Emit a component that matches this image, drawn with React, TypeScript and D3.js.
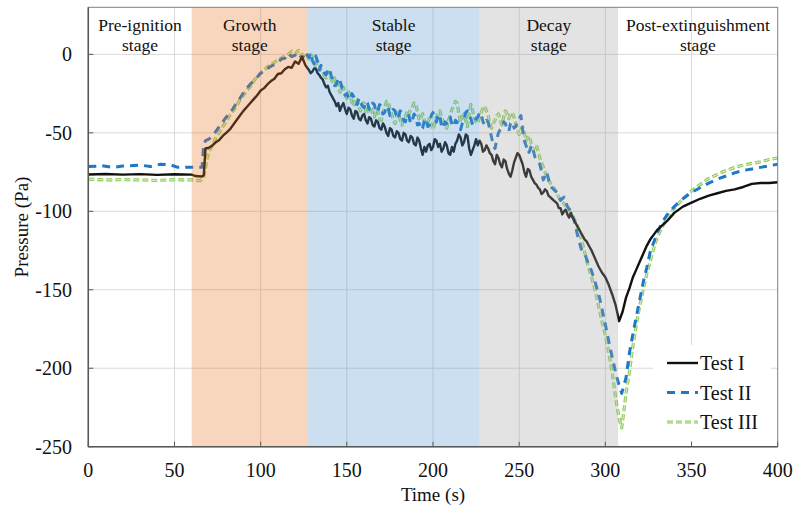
import React from "react";
import * as d3 from "d3";

// Stage boundaries (s) and names
const stageEdges = [0, 60, 127.3, 227, 307.4, 400];
const stageNames = ["Pre-ignition", "Growth", "Stable", "Decay", "Post-extinguishment"];
const stageFill = ["none", "rgb(232,115,38)", "rgb(85,148,205)", "rgb(162,162,162)", "none"];

const xTicks = [0, 50, 100, 150, 200, 250, 300, 350, 400];
const yTicks = [-250, -200, -150, -100, -50, 0];

// [time (s), pressure (Pa)]
const testI: [number, number][] = [
  [0, -76.5], [10, -76.2], [20, -76.6], [30, -76.3], [40, -76.8], [50, -76.4], [60, -76.6], [62, -77.5], [66, -77.8], [67, -77],
  [68, -60], [70, -59.5], [72, -58], [74, -56], [76, -54.5], [78, -52], [80, -50], [82, -48], [84, -45], [86, -42], [88, -39],
  [90, -36], [92, -33.5], [94, -31], [96, -28.5], [98, -26], [100, -23], [102, -21.5], [104, -19], [106, -17], [108, -15.5],
  [110, -12.5], [112, -12], [114, -9.5], [116, -8], [118, -8.5], [120, -4.5], [122, -6], [124, -1.5], [126, -7],
  [128, -10], [129, -12], [130, -11], [131, -9], [132, -9], [133, -12], [134, -13], [135, -15], [136, -16], [137, -19],
  [138, -21], [139, -20], [140, -24], [141, -26], [142, -28], [143, -30], [144, -33], [145, -31], [146, -36], [147, -33],
  [148, -31], [149, -35], [150, -38], [151, -34], [152, -35], [153, -39], [154, -41], [155, -36], [156, -37], [157, -41],
  [158, -42], [159, -39], [160, -38], [161, -42], [162, -44], [163, -40], [164, -41], [165, -45], [166, -46], [167, -42],
  [168, -43], [169, -47], [170, -48], [171, -44], [172, -46], [173, -50], [174, -52], [175, -47], [176, -48], [177, -52],
  [178, -53], [179, -49], [180, -50], [181, -54], [182, -55], [183, -50], [184, -51], [185, -55], [186, -56], [187, -52],
  [188, -53], [189, -57], [190, -58], [191, -53], [192, -55], [193, -60], [194, -64], [195, -59], [196, -62], [197, -58],
  [198, -57], [199, -61], [200, -59], [201, -54], [202, -55], [203, -59], [204, -57], [205, -62], [206, -60], [207, -56],
  [208, -58], [209, -63], [210, -64], [211, -59], [212, -62], [213, -57], [214, -55], [215, -51], [216, -53], [217, -58],
  [218, -56], [219, -51], [220, -52], [221, -60], [222, -64], [223, -61], [224, -58], [225, -54], [226, -58], [227, -55],
  [228, -57], [229, -62], [230, -61], [231, -58], [232, -60], [233, -63], [234, -64], [235, -68], [236, -70], [237, -64],
  [238, -66], [239, -70], [240, -72], [241, -67], [242, -68], [243, -73], [244, -76], [245, -78], [246, -74], [247, -69],
  [248, -66], [249, -63], [250, -64], [251, -67], [252, -70], [253, -75], [254, -78], [255, -73], [256, -74], [257, -78],
  [258, -80], [259, -82], [260, -83], [261, -85], [262, -86], [263, -89], [264, -88], [265, -86], [266, -87], [267, -90],
  [268, -91], [269, -92], [270, -93], [271, -94], [272, -95], [273, -98], [274, -98], [275, -102], [276, -100], [277, -99],
  [278, -102], [279, -104], [280, -101], [281, -104], [282, -106], [283, -108], [284, -110], [285, -112], [286, -114],
  [287, -116], [288, -118], [289, -119], [290, -121], [292, -125], [294, -130], [296, -135], [298, -139], [300, -142],
  [302, -147], [304, -153], [306, -160], [308, -170], [310, -164], [312, -155], [314, -149], [316, -142], [318, -137],
  [320, -132], [322, -127], [324, -122], [326, -118], [328, -115], [330, -112], [333, -109], [336, -106], [340, -101],
  [345, -97], [350, -94.5], [355, -92], [360, -90], [365, -88.5], [370, -87], [375, -86], [380, -84.5], [385, -82.5],
  [390, -82], [395, -82], [400, -81.5],
];

const testII: [number, number][] = [
  [0, -71.5], [8, -71], [14, -72], [20, -71.2], [30, -70.5], [36, -71.5], [42, -70], [48, -70.5], [52, -72], [58, -72],
  [64, -72], [66, -72], [67, -57], [68, -55], [70, -54], [72, -52], [74, -49], [76, -46], [78, -43], [80, -40], [82, -37.5],
  [84, -34.5], [86, -31], [88, -28], [90, -24.5], [92, -21.5], [94, -19], [96, -17], [98, -14.5], [100, -12], [102, -10.5],
  [104, -9], [106, -7.5], [108, -6.5], [110, -5], [112, -3], [114, -2.5], [116, 0.5], [118, -1.5], [120, -0.5], [122, 1],
  [124, -3], [126, 1.5],
  [128, -2], [129, 1], [130, -4], [131, -6], [132, -1], [133, -5], [134, -10], [135, -7], [136, -8], [137, -12], [138, -13],
  [139, -10], [140, -9], [141, -14], [142, -16], [143, -20], [144, -19], [145, -15], [146, -16], [147, -21], [148, -22],
  [149, -26], [150, -25], [151, -28], [152, -29], [153, -25], [154, -27], [155, -31], [156, -32], [157, -28], [158, -30],
  [159, -33], [160, -34], [161, -30], [162, -31], [163, -35], [164, -35], [165, -31], [166, -32], [167, -37], [168, -36],
  [169, -32], [170, -33], [171, -38], [172, -37], [173, -33], [174, -34], [175, -39], [176, -38], [177, -35], [178, -36],
  [179, -41], [180, -40], [181, -36], [182, -37], [183, -42], [184, -43], [185, -38], [186, -39], [187, -44], [188, -42],
  [189, -38], [190, -40], [191, -45], [192, -44], [193, -48], [194, -47], [195, -42], [196, -41], [197, -46], [198, -45],
  [199, -39], [200, -37], [201, -41], [202, -43], [203, -38], [204, -40], [205, -46], [206, -47], [207, -43], [208, -44],
  [209, -40], [210, -40], [211, -45], [212, -46], [213, -42], [214, -43], [215, -47], [216, -48], [217, -44], [218, -42],
  [219, -37], [220, -36], [221, -39], [222, -41], [223, -45], [224, -44], [225, -41], [226, -40], [227, -37], [228, -38],
  [229, -43], [230, -45], [231, -42], [232, -43], [233, -48], [234, -53], [235, -58], [236, -60], [237, -54], [238, -50],
  [239, -48], [240, -47], [241, -43], [242, -44], [243, -48], [244, -49], [245, -44], [246, -43], [247, -47], [248, -46],
  [249, -42], [250, -41], [251, -39], [252, -48], [253, -55], [254, -58], [255, -63], [256, -62], [257, -58], [258, -60],
  [259, -65], [260, -67], [261, -69], [262, -70],
  [264, -80], [266, -75], [268, -84], [270, -86], [272, -88], [274, -93], [276, -91], [278, -97], [280, -100], [282, -106],
  [284, -116], [286, -124], [288, -127], [290, -133], [292, -138], [294, -145], [296, -152], [298, -162], [300, -172],
  [302, -183], [304, -193], [306, -203], [308, -211], [309.5, -216], [311, -210], [312, -206], [314, -190], [316, -178],
  [318, -167], [320, -156], [322, -145], [324, -136], [326, -126], [328, -120], [330, -114], [333, -107], [336, -102],
  [340, -97], [345, -92], [350, -88], [355, -85], [360, -82], [365, -79.5], [370, -77.5], [375, -75.5], [380, -74],
  [385, -73], [390, -72], [395, -71], [400, -70],
];

const testIII: [number, number][] = [
  [0, -79.5], [10, -80], [20, -79.8], [30, -80], [40, -80.3], [50, -79.8], [60, -80], [65, -80.5], [67, -78], [68, -72],
  [69, -66], [70, -62], [72, -58], [74, -53], [76, -50], [78, -46], [80, -43], [82, -39], [84, -36], [86, -33], [88, -29],
  [90, -26], [92, -23], [94, -20.5], [96, -17], [98, -14], [100, -12], [102, -10], [104, -8], [106, -6.5], [108, -5],
  [110, -3.5], [112, -2.5], [114, -1], [116, 0], [118, 2], [120, 0.5], [122, 2.5], [124, -1], [126, 1],
  [128, -3], [129, 0], [130, -2], [131, -5], [132, -8], [133, -4], [134, -7], [135, -10], [136, -11], [137, -14],
  [138, -15], [139, -11], [140, -12], [141, -16], [142, -19], [143, -15], [144, -17], [145, -22], [146, -24], [147, -20],
  [148, -21], [149, -26], [150, -28], [151, -24], [152, -26], [153, -31], [154, -33], [155, -28], [156, -29], [157, -34],
  [158, -36], [159, -31], [160, -31], [161, -36], [162, -38], [163, -34], [164, -33], [165, -38], [166, -40], [167, -35],
  [168, -36], [169, -41], [170, -42], [171, -37], [172, -34], [173, -30], [174, -30], [175, -35], [176, -38], [177, -42],
  [178, -44], [179, -39], [180, -37], [181, -42], [182, -45], [183, -41], [184, -40], [185, -36], [186, -38], [187, -35],
  [188, -34], [189, -31], [190, -31], [191, -37], [192, -42], [193, -40], [194, -38], [195, -42], [196, -45], [197, -43],
  [198, -41], [199, -45], [200, -48], [201, -44], [202, -40], [203, -37], [204, -36], [205, -40], [206, -43], [207, -46],
  [208, -47], [209, -42], [210, -39], [211, -35], [212, -33], [213, -30], [214, -31], [215, -38], [216, -43], [217, -40],
  [218, -38], [219, -42], [220, -46], [221, -38], [222, -32], [223, -36], [224, -40], [225, -43], [226, -44], [227, -40],
  [228, -37], [229, -34], [230, -33], [231, -36], [232, -39], [233, -44], [234, -47], [235, -44], [236, -42], [237, -39],
  [238, -38], [239, -42], [240, -45], [241, -40], [242, -36], [243, -38], [244, -41], [245, -38], [246, -37], [247, -40],
  [248, -44], [249, -48], [250, -51], [251, -48], [252, -46], [253, -50], [254, -55], [255, -53], [256, -52], [257, -57],
  [258, -61], [259, -59], [260, -58], [261, -62], [262, -66],
  [264, -72], [266, -78], [268, -82], [270, -85], [272, -89], [274, -93], [276, -95], [278, -98], [280, -101], [282, -105],
  [284, -110], [286, -118], [288, -126], [290, -135], [292, -142], [294, -150], [296, -160], [298, -170], [300, -179],
  [302, -190], [304, -203], [306, -219], [308, -232], [309.5, -238], [311, -225], [312, -216], [314, -202], [316, -186],
  [318, -172], [320, -160], [322, -150], [324, -140], [326, -132], [328, -124], [330, -117], [333, -110], [336, -104],
  [340, -98], [345, -92], [350, -87], [355, -83], [360, -79], [365, -76.5], [370, -74], [375, -72], [380, -70.5],
  [385, -69.5], [390, -68.5], [395, -67], [400, -66],
];

const legendLabels = ["Test I", "Test II", "Test III"];

const W = 793;
const H = 508;
const left = 88.3;
const right = 777.7;
const top = 7.3;
const bottom = 446.7;
const FONT = "'Liberation Serif', 'DejaVu Serif', serif";
const txt = { fontFamily: FONT };

export default function App() {
  const x = d3.scaleLinear().domain([0, 400]).range([left, right]);
  const y = d3.scaleLinear().domain([-250, 30]).range([bottom, top]);

  const line = d3
    .line<[number, number]>()
    .x((d) => x(d[0]))
    .y((d) => y(d[1]));

  const paths = [line(testI) || "", line(testII) || "", line(testIII) || ""];

  const seriesStroke = (kind: number, d: string, key: string) => {
    if (kind === 0)
      return <path key={key} d={d} fill="none" stroke="#111" strokeWidth={2.4} strokeLinejoin="round" />;
    if (kind === 1)
      return (
        <path key={key} d={d} fill="none" stroke="#1F77C9" strokeWidth={3} strokeDasharray="8,6" strokeLinejoin="round" />
      );
    return (
      <g key={key}>
        <path d={d} fill="none" stroke="#8DCB57" strokeWidth={3.2} strokeDasharray="6,3" strokeLinejoin="round" />
        <path d={d} fill="none" stroke="#D6EEC2" strokeWidth={1.1} strokeDasharray="6,3" strokeLinejoin="round" />
      </g>
    );
  };

  return (
    <svg width={W} height={H} style={{ position: "absolute", left: 0, top: 0, background: "#fff" }}>
      {/* grid */}
      {xTicks
        .filter((t) => t > 0 && t < 400)
        .map((t) => (
          <line key={"gx" + t} x1={x(t)} x2={x(t)} y1={top} y2={bottom} stroke="#D9D9D9" strokeWidth={1} />
        ))}
      {yTicks
        .filter((t) => t > -250)
        .map((t) => (
          <line key={"gy" + t} x1={left} x2={right} y1={y(t)} y2={y(t)} stroke="#D9D9D9" strokeWidth={1} />
        ))}

      {/* series, Test III underneath */}
      {seriesStroke(2, paths[2], "s3")}
      {seriesStroke(1, paths[1], "s2")}
      {seriesStroke(0, paths[0], "s1")}

      {/* translucent stage shading laid over the curves */}
      {stageFill.map((c, i) =>
        c === "none" ? null : (
          <rect
            key={"band" + i}
            x={x(stageEdges[i])}
            y={top}
            width={x(stageEdges[i + 1]) - x(stageEdges[i])}
            height={bottom - top}
            fill={c}
            fillOpacity={0.3}
          />
        )
      )}

      {/* stage labels */}
      {stageNames.map((s, i) => {
        const cx = (x(stageEdges[i]) + x(stageEdges[i + 1])) / 2;
        return (
          <g key={"lab" + i} fill="#111">
            <text x={cx} y={31} fontSize={17.5} textAnchor="middle" style={txt}>{s}</text>
            <text x={cx} y={51} fontSize={17.5} textAnchor="middle" style={txt}>stage</text>
          </g>
        );
      })}

      {/* frame and axes */}
      <rect x={left} y={top} width={right - left} height={bottom - top} fill="none" stroke="#808080" strokeWidth={1} />
      <line x1={left} x2={left} y1={top} y2={bottom} stroke="#595959" strokeWidth={1.5} />
      <line x1={left} x2={right} y1={bottom} y2={bottom} stroke="#595959" strokeWidth={1.5} />
      {xTicks.map((t) => (
        <g key={"xt" + t}>
          <line x1={x(t)} x2={x(t)} y1={bottom} y2={bottom - 5} stroke="#595959" strokeWidth={1} />
          <text x={x(t)} y={477} fontSize={20} textAnchor="middle" fill="#111" style={txt}>
            {t}
          </text>
        </g>
      ))}
      {yTicks.map((t) => (
        <g key={"yt" + t}>
          <line x1={left} x2={left + 5} y1={y(t)} y2={y(t)} stroke="#595959" strokeWidth={1} />
          <text x={72} y={y(t) + 7} fontSize={20} textAnchor="end" fill="#111" style={txt}>
            {t}
          </text>
        </g>
      ))}

      <text x={(left + right) / 2} y={501} fontSize={19} textAnchor="middle" fill="#111" style={txt}>
        Time (s)
      </text>
      <text
        transform={`translate(28, ${(top + bottom) / 2}) rotate(-90)`}
        fontSize={19}
        textAnchor="middle"
        fill="#111"
        style={txt}
      >
        Pressure (Pa)
      </text>

      {/* legend */}
      <rect x={653} y={345} width={118} height={96} fill="#fff" />
      {legendLabels.map((label, i) => {
        const ly = 363 + i * 29.5;
        return (
          <g key={"lg" + i}>
            {seriesStroke(i, `M667,${ly}L698,${ly}`, "lgl" + i)}
            <text x={700} y={ly + 7} fontSize={20} fill="#111" style={txt}>
              {label}
            </text>
          </g>
        );
      })}
    </svg>
  );
}
